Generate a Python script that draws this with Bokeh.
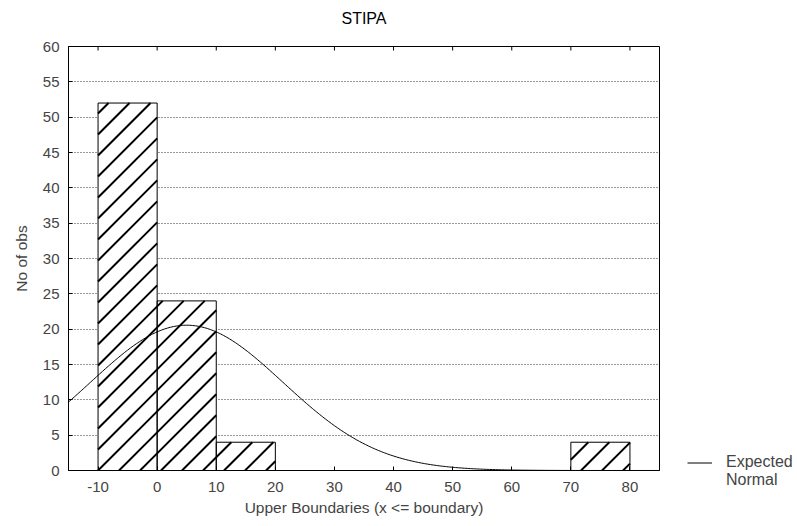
import math
from bokeh.plotting import figure
from bokeh.layouts import row, column
from bokeh.models import FixedTicker, Legend, LegendItem, Range1d, Label
from bokeh.embed import file_html
from bokeh.resources import INLINE

# Histogram data (upper boundaries, bin width 10)
bin_lower = [-10, 0, 10, 20, 30, 40, 50, 60, 70]
bin_upper = [0, 10, 20, 30, 40, 50, 60, 70, 80]
counts = [52, 24, 4, 0, 0, 0, 0, 0, 4]
x_ticks = [-10, 0, 10, 20, 30, 40, 50, 60, 70, 80]
y_ticks = [0, 5, 10, 15, 20, 25, 30, 35, 40, 45, 50, 55, 60]
title_text = "STIPA"
legend_labels = ["Expected", "Normal"]

# Expected normal parameters
normal_mean = 5.0
normal_sd = 16.3
bin_width = 10
n_obs = sum(counts)

FONT = "Liberation Sans"

X0, X1, Y0, Y1 = -15, 85, 0, 60
FRAME_W, FRAME_H = 591, 424
TITLE_H = 28


def no_align(fig):
    if "frame_align" in fig.properties():
        fig.frame_align = False


# ---- title strip ----
t = figure(width=797, height=TITLE_H, output_backend="svg", toolbar_location=None,
           x_range=Range1d(0, 1), y_range=Range1d(0, 1),
           x_axis_location=None, y_axis_location=None,
           min_border=0, min_border_left=0, min_border_right=0,
           min_border_top=0, min_border_bottom=0)
no_align(t)
t.grid.visible = False
t.outline_line_color = None
t.background_fill_color = "white"
t.border_fill_color = "white"
t.add_layout(Label(x=68 + FRAME_W / 2, y=TITLE_H - 18, x_units="screen", y_units="screen",
                   text=title_text, text_align="center", text_baseline="middle",
                   text_font=FONT, text_font_size="16px", text_color="black"))

# ---- main plot ----
p = figure(width=680, height=526 - TITLE_H, output_backend="svg", toolbar_location=None,
           x_range=Range1d(X0, X1), y_range=Range1d(Y0, Y1),
           min_border_left=68, min_border_right=21, min_border_top=46 - TITLE_H,
           min_border_bottom=56)
p.outline_line_color = "black"
p.outline_line_width = 1
p.background_fill_color = "white"
p.border_fill_color = "white"

# grids
p.xgrid.visible = False
p.ygrid.ticker = FixedTicker(ticks=y_ticks)
p.ygrid.grid_line_color = "#333333"
p.ygrid.grid_line_dash = "1 2"
p.ygrid.grid_line_width = 1

sx = FRAME_W / (X1 - X0)
sy = FRAME_H / (Y1 - Y0)

# top-edge inner tick marks (4 px)
p.segment(x0=x_ticks, y0=[Y1] * len(x_ticks), x1=x_ticks, y1=[Y1 - 4 / sy] * len(x_ticks),
          line_color="black", line_width=1)

# bars: white fill
nz = [i for i, c in enumerate(counts) if c > 0]
L = [bin_lower[i] for i in nz]
R = [bin_upper[i] for i in nz]
T = [counts[i] for i in nz]
p.quad(left=L, right=R, bottom=0, top=T, fill_color="white", line_color=None)

# "/" hatching at 45 degrees on screen, clipped to each bar
a = sy / sx              # data-x per data-y along a 45deg screen line
dc = 21.0 / sx           # horizontal spacing of hatch lines (21 px)
hx0, hy0, hx1, hy1 = [], [], [], []
for l, r, tp in zip(L, R, T):
    k_min = int(math.floor((l - tp * a - (-10)) / dc)) - 1
    k_max = int(math.ceil((r - (-10)) / dc)) + 1
    for k in range(k_min, k_max + 1):
        c = -10 + k * dc
        ya = max(0.0, (l - c) / a)
        yb = min(float(tp), (r - c) / a)
        if yb - ya > 1e-6:
            hx0.append(c + ya * a); hy0.append(ya)
            hx1.append(c + yb * a); hy1.append(yb)
p.segment(hx0, hy0, hx1, hy1, line_color="black", line_width=2)

# bar outlines
p.quad(left=L, right=R, bottom=0, top=T, fill_color=None, line_color="black", line_width=1)

# expected normal curve
xs = [X0 + i * 0.25 for i in range(401)]
ys = [n_obs * bin_width / (normal_sd * math.sqrt(2 * math.pi)) *
      math.exp(-((x - normal_mean) ** 2) / (2 * normal_sd ** 2)) for x in xs]
curve = p.line(xs, ys, line_color="black", line_width=1)

# axes
for ax in (p.xaxis[0], p.yaxis[0]):
    ax.major_label_text_font = FONT
    ax.major_label_text_font_size = "15px"
    ax.axis_label_text_font = FONT
    ax.axis_label_text_font_size = "15.5px"
    ax.axis_label_text_font_style = "normal"
    ax.major_tick_out = 0
    ax.major_tick_in = 4
    ax.minor_tick_out = 0
    ax.minor_tick_in = 0
    ax.axis_line_color = "black"
    ax.major_tick_line_color = "black"

p.xaxis.ticker = FixedTicker(ticks=x_ticks)
p.xaxis.major_label_overrides = {tk: str(tk) for tk in x_ticks}
p.yaxis.ticker = FixedTicker(ticks=y_ticks)
p.xaxis.axis_label = "Upper Boundaries (x <= boundary)"
p.yaxis.axis_label = "No of obs"
p.xaxis.major_label_standoff = 11
p.xaxis.axis_label_standoff = 4
p.yaxis.major_label_standoff = 9
p.yaxis.axis_label_standoff = 10

# ---- legend panel to the right ----
q = figure(width=117, height=526 - TITLE_H, output_backend="svg", toolbar_location=None,
           x_range=Range1d(0, 1), y_range=Range1d(0, 1),
           x_axis_location=None, y_axis_location=None,
           min_border=0, min_border_left=0, min_border_right=0,
           min_border_top=0, min_border_bottom=0)
no_align(q)
q.grid.visible = False
q.outline_line_color = None
q.border_fill_color = "white"
q.background_fill_color = "white"
leg_line = q.line([-2, -1], [-2, -1], line_color="black", line_width=1)
leg_blank = q.line([-2, -1], [-2, -1], line_alpha=0)
legend = Legend(items=[LegendItem(label=legend_labels[0], renderers=[leg_line]),
                       LegendItem(label=legend_labels[1], renderers=[leg_blank])],
                location=(7, 37), orientation="vertical",
                border_line_color=None, background_fill_alpha=0,
                label_text_font=FONT, label_text_font_size="16px",
                glyph_width=25, glyph_height=15, label_standoff=14,
                label_height=15, spacing=0, padding=0, margin=0)
q.add_layout(legend)

layout = column(t, row(p, q))
open("out.html", "w").write(file_html(layout, INLINE))
